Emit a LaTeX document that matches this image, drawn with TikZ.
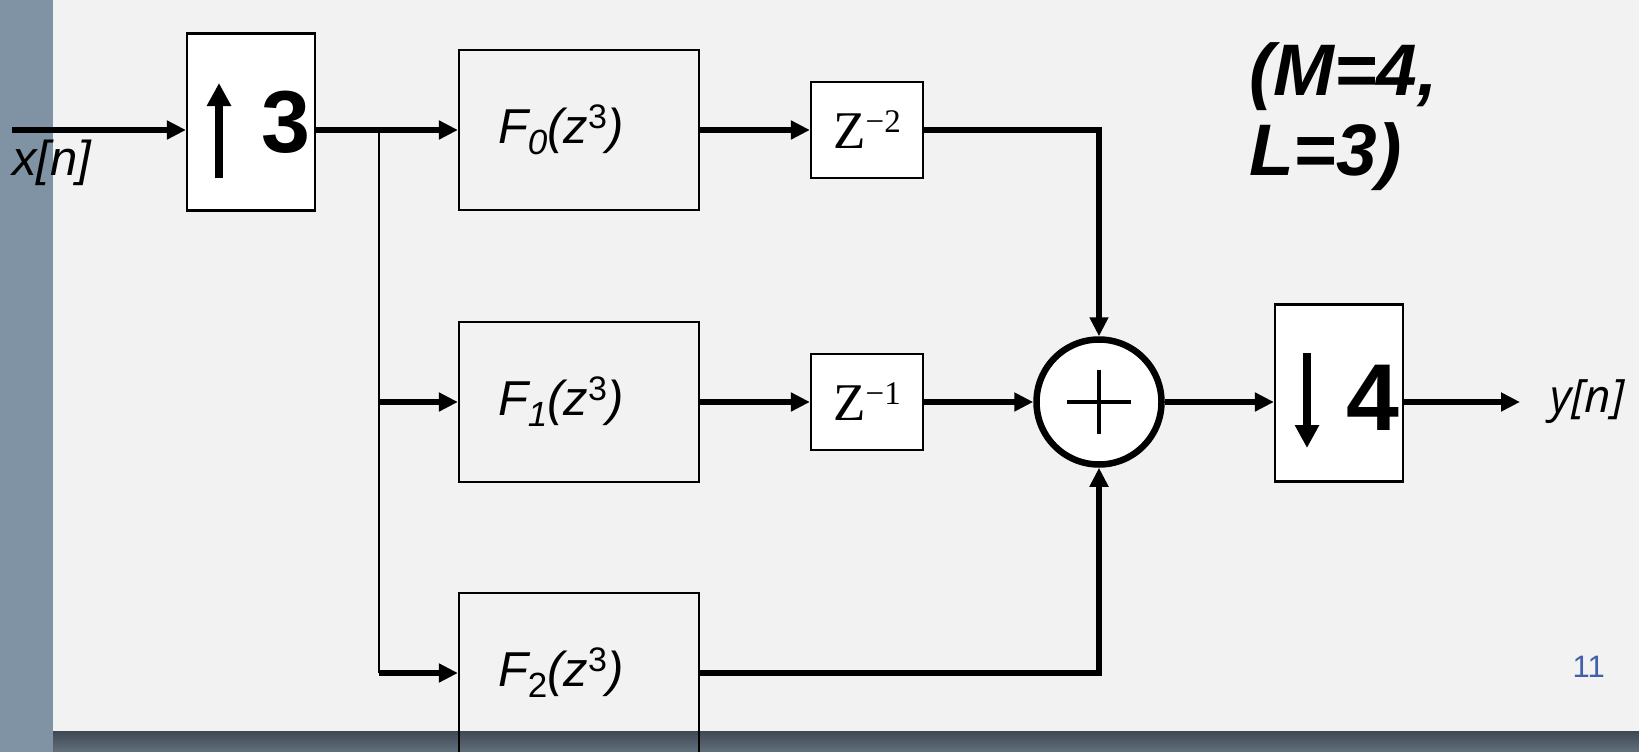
\documentclass[tikz,border=0pt]{standalone}
\usepackage{fontspec}
\setmainfont{Liberation Sans}
\newfontfamily\zfont{Liberation Serif}
\newfontfamily\outfont{Open Sans}
\usepackage{tikz}
\usetikzlibrary{arrows.meta,positioning,calc}

\definecolor{panelgray}{RGB}{242,242,242}
\definecolor{slateside}{RGB}{128,147,164}
\definecolor{slatetop}{RGB}{62,72,82}
\definecolor{slatebot}{RGB}{98,112,126}
\definecolor{pageblue}{RGB}{66,96,168}

\newcommand{\lowidx}[1]{\raisebox{-11pt}{\fontsize{35}{35}\selectfont #1}}
\newcommand{\hiidx}[1]{\raisebox{15pt}{\fontsize{34}{34}\selectfont\upshape #1}}

\begin{document}
\begin{tikzpicture}[
    x=1pt, y=-1pt,
    arrow/.style={-{Triangle[length=19pt,width=18pt]}, line width=5.5pt},
    branch/.style={line width=2.5pt},
    ratebox/.style={rectangle, draw, fill=white, line width=2.2pt, minimum width=128pt, minimum height=177pt, inner sep=0pt},
    ratearrow/.style={-{Triangle[length=23pt,width=23pt]}, line width=8pt},
    ratenum/.style={inner sep=0pt, font=\bfseries\fontsize{#1}{#1}\selectfont},
    filt/.style={rectangle, draw, line width=2.2pt, minimum height=160pt, text width=162pt, inner xsep=39pt, inner ysep=0pt, align=left, font=\itshape\fontsize{49}{58}\selectfont},
    delay/.style={rectangle, draw, fill=white, line width=2.2pt, minimum width=112pt, minimum height=96pt, inner sep=0pt, font=\zfont\fontsize{53}{58}\selectfont},
    adder/.style={circle, draw, fill=white, line width=6.5pt, minimum size=125pt, inner sep=0pt},
    plusbar/.style={line width=4.5pt},
    sig/.style={inner sep=0pt, font=\itshape\fontsize{49}{58}\selectfont}
]
\useasboundingbox (0,0) rectangle (1639,752);
\fill[slateside] (0,0) rectangle (53,752);
\shade[top color=slatetop, bottom color=slatebot] (53,731) rectangle (1639,752);
\fill[panelgray] (53,0) rectangle (1639,731);

\node[ratebox] (up) at (251,122) {};
\node[ratebox] (down) at (1339,393) {};
\node[filt] (f0) at (579,130) {F\lowidx{0}(z\hiidx{3})};
\node[filt] (f1) at (579,402) {F\lowidx{1}(z\hiidx{3})};
\node[filt] (f2) at (579,673) {F\lowidx{\upshape 2}(z\hiidx{3})};
\node[delay] (z2) at (867,130) {Z\raisebox{16pt}{\fontsize{33}{33}\selectfont −2}};
\node[delay] (z1) at (867,402) {Z\raisebox{16pt}{\fontsize{33}{33}\selectfont −1}};
\node[adder] (sum) at (1099,402) {};

\draw[ratearrow] ($(up.center)+(-32,56)$) -- ($(up.center)+(-32,-39)$);
\node[ratenum=88, anchor=base east] (upnum) at ($(up.center)+(60,30)$) {3};
\draw[ratearrow] ($(down.center)+(-32,-40)$) -- ($(down.center)+(-32,55)$);
\node[ratenum=95, anchor=base east] (downnum) at ($(down.center)+(61,37)$) {4};
\draw[plusbar] ($(sum.center)+(-32,0)$) -- ($(sum.center)+(32,0)$);
\draw[plusbar] ($(sum.center)+(0,-32)$) -- ($(sum.center)+(0,32)$);

\coordinate (xin) at (12,130);
\coordinate (split) at (379,130);
\coordinate (yout) at (1520,402);
\node[sig, anchor=north west] (xn) at ($(xin)+(0,10)$) {x[n]};
\node[sig, font=\outfont\itshape\fontsize{46}{54}\selectfont, right=30pt of yout] (yn) {y[n]};
\node[inner sep=0pt, anchor=north west, align=left, font=\bfseries\itshape\fontsize{73}{80}\selectfont] (rates) at (1249,42) {(M=4,\\L=3)};
\node[inner sep=0pt, anchor=base east, text=pageblue, font=\fontsize{31}{36}\selectfont] (page) at (1605,677) {11};

\draw[arrow] (xin) -- (up.west |- xin);
\draw[arrow] (up.east |- xin) -- (f0.west);
\draw[branch] (split) -- (split |- f2.west);
\draw[arrow] (split |- f1.west) -- (f1.west);
\draw[arrow] (split |- f2.west) -- (f2.west);
\draw[arrow] (f0) -- (z2);
\draw[arrow] (f1) -- (z1);
\draw[arrow] (z2) -| (sum);
\draw[arrow] (z1) -- (sum);
\draw[arrow] (f2) -| (sum);
\draw[arrow] (sum) -- (sum -| down.west);
\draw[arrow] (down.east |- sum) -- (yout);
\end{tikzpicture}
\end{document}
